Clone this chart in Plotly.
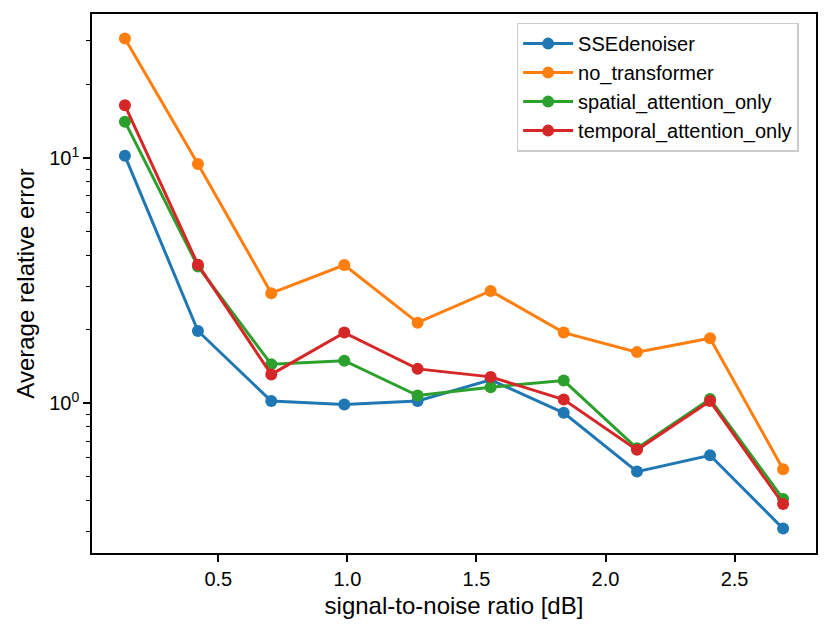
import plotly.graph_objects as go

snr_db = [0.138, 0.421, 0.705, 0.988, 1.272, 1.555, 1.838, 2.122, 2.405, 2.688]

sse_denoiser = [10.2, 1.97, 1.02, 0.987, 1.02, 1.245, 0.913, 0.526, 0.613, 0.308]
no_transformer = [30.7, 9.45, 2.81, 3.66, 2.13, 2.87, 1.94, 1.615, 1.84, 0.538]
spatial_attention_only = [14.06, 3.61, 1.44, 1.49, 1.074, 1.162, 1.236, 0.655, 1.04, 0.407]
temporal_attention_only = [16.4, 3.67, 1.31, 1.94, 1.38, 1.28, 1.035, 0.645, 1.02, 0.388]

series_names = ["SSEdenoiser", "no_transformer", "spatial_attention_only", "temporal_attention_only"]
series_values = [sse_denoiser, no_transformer, spatial_attention_only, temporal_attention_only]
colors = ["#1f77b4", "#ff7f0e", "#2ca02c", "#d62728"]

x_tickvals = [0.5, 1.0, 1.5, 2.0, 2.5]
y_tickvals = [1, 10]
y_ticktext = ["10<sup>0</sup>", "10<sup>1</sup>"]
y_minor = [0.3, 0.4, 0.5, 0.6, 0.7, 0.8, 0.9, 2, 3, 4, 5, 6, 7, 8, 9, 20, 30]

FONT = "Liberation Sans, Arial, Helvetica, sans-serif"

fig = go.Figure()
for name, vals, c in zip(series_names, series_values, colors):
    fig.add_trace(go.Scatter(
        x=snr_db, y=vals, name=name, mode="lines+markers",
        line=dict(color=c, width=3),
        marker=dict(color=c, size=12),
    ))

fig.update_layout(
    width=830, height=632,
    margin=dict(l=84, r=22, t=6, b=87, autoexpand=False),
    paper_bgcolor="white", plot_bgcolor="white",
    font=dict(family=FONT, size=20, color="black"),
    showlegend=True,
    legend=dict(
        x=0.976, y=0.984, xanchor="right", yanchor="top",
        bgcolor="rgba(255,255,255,0.8)", bordercolor="#cccccc", borderwidth=1.5,
        font=dict(size=20), tracegroupgap=0, itemwidth=50,
    ),
)

fig.update_xaxes(
    range=[0.0105, 2.8155], automargin=False,
    tickvals=x_tickvals, tickformat=".1f",
    showgrid=False, zeroline=False,
    showline=True, linecolor="black", linewidth=1.6, mirror=True,
    ticks="outside", ticklen=7, tickwidth=1.6, tickcolor="black",
    title=dict(text="signal-to-noise ratio [dB]", font=dict(size=24), standoff=8),
)
fig.update_yaxes(
    type="log", range=[-0.611, 1.587], automargin=False,
    tickvals=y_tickvals, ticktext=y_ticktext,
    showgrid=False, zeroline=False,
    showline=True, linecolor="black", linewidth=1.6, mirror=True,
    ticks="outside", ticklen=7, tickwidth=1.6, tickcolor="black",
    minor=dict(tickvals=y_minor, ticks="outside", ticklen=4, tickwidth=1.2, tickcolor="black", showgrid=False),
    title=dict(text="Average relative error", font=dict(size=24), standoff=8),
)

fig.write_html("out.html")
